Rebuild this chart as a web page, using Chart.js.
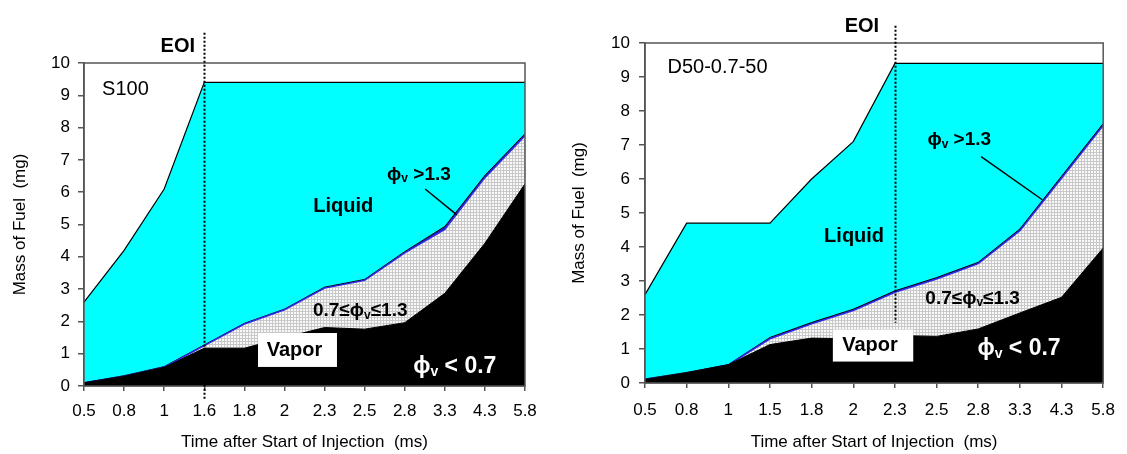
<!DOCTYPE html>
<html lang="en">
<head>
<meta charset="utf-8">
<title>Mass of fuel vs time after start of injection</title>
<script src="https://cdn.jsdelivr.net/npm/chart.js@4.4.1/dist/chart.umd.min.js"></script>
<style>
  body { margin: 0; background: #fff; }
  canvas { position: absolute; top: 0; }
  #left { left: 0; }
  #right { left: 560px; }
</style>
</head>
<body>
<canvas id="left" width="560" height="454"></canvas>
<canvas id="right" width="567" height="454"></canvas>
<script>
// S100 - cumulative boundaries (mg)
const timesA  = ['0.5','0.8','1','1.6','1.8','2','2.3','2.5','2.8','3.3','4.3','5.8']
const leanA   = [0.1, 0.3, 0.58, 1.17, 1.17, 1.5, 1.81, 1.76, 1.96, 2.87, 4.42, 6.26]   // phi_v < 0.7
const stoichA = [0.1, 0.3, 0.58, 1.25, 1.92, 2.36, 3.03, 3.27, 4.12, 4.85, 6.45, 7.75]  // + 0.7..1.3
const vaporA  = [0.1, 0.32, 0.6, 1.27, 1.94, 2.38, 3.06, 3.3, 4.16, 4.94, 6.52, 7.81]  // + phi_v > 1.3
const totalA  = [2.6, 4.2, 6.1, 9.4, 9.4, 9.4, 9.4, 9.4, 9.4, 9.4, 9.4, 9.4]         // + liquid

// D50-0.7-50
const timesB  = ['0.5','0.8','1','1.5','1.8','2','2.3','2.5','2.8','3.3','4.3','5.8']
const leanB   = [0.1, 0.3, 0.54, 1.13, 1.32, 1.3, 1.4, 1.37, 1.59, 2.06, 2.52, 3.97]
const stoichB = [0.1, 0.29, 0.53, 1.3, 1.74, 2.13, 2.67, 3.06, 3.51, 4.48, 6.02, 7.57]
const vaporB  = [0.12, 0.31, 0.54, 1.34, 1.78, 2.17, 2.71, 3.1, 3.55, 4.53, 6.08, 7.63]
const totalB  = [2.6, 4.7, 4.7, 4.7, 6.0, 7.1, 9.4, 9.4, 9.4, 9.4, 9.4, 9.4]

const FONT = 'Liberation Sans, Arial, sans-serif'
Chart.defaults.font.family = FONT
Chart.defaults.color = '#000'

// labels placed in data units (x = category index, y = mg)
const notesA = [
  { type: 'dotted', x: 3, y1: 10.94, y2: -0.45 },
  { type: 'text', x: 2.77, y: 10.5, parts: ['EOI'], size: 20, bold: true, align: 'right' },
  { type: 'text', x: 0.45, y: 9.17, parts: ['S100'], size: 20 },
  { type: 'text', x: 5.72, y: 5.55, parts: ['Liquid'], size: 20, bold: true },
  { type: 'text', x: 7.56, y: 6.54, parts: ['ϕ', 'v', ' >1.3'], size: 19, bold: true },
  { type: 'line', x1: 8.51, y1: 6.1, x2: 9.3, y2: 5.3 },
  { type: 'text', x: 5.71, y: 2.32, parts: ['0.7≤ϕ', 'v', '≤1.3'], size: 19, bold: true },
  { type: 'box', x1: 4.34, y1: 1.64, x2: 6.31, y2: 0.59, text: 'Vapor', size: 20 },
  { type: 'text', x: 8.21, y: 0.59, parts: ['ϕ', 'v', ' < 0.7'], size: 23, bold: true, color: '#fff' }
]
const notesB = [
  { type: 'dotted', x: 6, y1: 10.51, y2: 1.77 },
  { type: 'text', x: 5.62, y: 10.48, parts: ['EOI'], size: 20, bold: true, align: 'right' },
  { type: 'text', x: 0.54, y: 9.27, parts: ['D50-0.7-50'], size: 20 },
  { type: 'text', x: 4.3, y: 4.3, parts: ['Liquid'], size: 20, bold: true },
  { type: 'text', x: 6.78, y: 7.14, parts: ['ϕ', 'v', ' >1.3'], size: 19, bold: true },
  { type: 'line', x1: 8.07, y1: 6.66, x2: 9.54, y2: 5.39 },
  { type: 'text', x: 6.73, y: 2.48, parts: ['0.7≤ϕ', 'v', '≤1.3'], size: 19, bold: true },
  { type: 'box', x1: 4.51, y1: 1.57, x2: 6.44, y2: 0.63, text: 'Vapor', size: 20 },
  { type: 'text', x: 7.98, y: 1.01, parts: ['ϕ', 'v', ' < 0.7'], size: 23, bold: true, color: '#fff' }
]

function font(size, bold) { return (bold ? 'bold ' : '') + size + 'px ' + FONT }

// draws text with every second part as a subscript
function drawParts(ctx, px, py, n) {
  const main = font(n.size, n.bold), sub = font(Math.round(n.size * 0.62), n.bold)
  let w = 0
  n.parts.forEach((p, i) => { ctx.font = i % 2 ? sub : main; w += ctx.measureText(p).width })
  let cx = n.align === 'right' ? px - w : px
  ctx.fillStyle = n.color || '#000'
  ctx.textBaseline = 'middle'
  ctx.textAlign = 'left'
  n.parts.forEach((p, i) => {
    ctx.font = i % 2 ? sub : main
    ctx.fillText(p, cx, i % 2 ? py + n.size * 0.22 : py)
    cx += ctx.measureText(p).width
  })
}

function notesPlugin(notes) {
  return {
    id: 'notes',
    afterDatasetsDraw(chart) {
      const { ctx, chartArea: a, scales: { x, y } } = chart
      ctx.save()
      ctx.strokeStyle = '#555'
      ctx.lineWidth = 1.5
      ctx.strokeRect(a.left, a.top, a.right - a.left, a.bottom - a.top)
      for (const n of notes) {
        if (n.type === 'dotted') {
          const px = Math.round(x.getPixelForValue(n.x)) + 0.5
          ctx.strokeStyle = '#000'
          ctx.lineWidth = 2
          ctx.setLineDash([2, 2])
          ctx.beginPath()
          ctx.moveTo(px, y.getPixelForValue(n.y1))
          ctx.lineTo(px, y.getPixelForValue(n.y2))
          ctx.stroke()
          ctx.setLineDash([])
        } else if (n.type === 'line') {
          ctx.strokeStyle = '#000'
          ctx.lineWidth = 1.5
          ctx.beginPath()
          ctx.moveTo(x.getPixelForValue(n.x1), y.getPixelForValue(n.y1))
          ctx.lineTo(x.getPixelForValue(n.x2), y.getPixelForValue(n.y2))
          ctx.stroke()
        } else if (n.type === 'box') {
          const l = x.getPixelForValue(n.x1), r = x.getPixelForValue(n.x2)
          const t = y.getPixelForValue(n.y1), b = y.getPixelForValue(n.y2)
          ctx.fillStyle = '#fff'
          ctx.fillRect(l, t, r - l, b - t)
          ctx.fillStyle = '#000'
          ctx.font = font(n.size, true)
          ctx.textAlign = 'center'
          ctx.textBaseline = 'middle'
          ctx.fillText(n.text, (l + r) / 2 - 3, (t + b) / 2)
        } else {
          drawParts(ctx, x.getPixelForValue(n.x), y.getPixelForValue(n.y), n)
        }
      }
      ctx.restore()
    }
  }
}

function fuelChart(id, labels, lean, stoich, vapor, total, g, notes) {
  const canvas = document.getElementById(id)
  const tile = document.createElement('canvas')
  tile.width = tile.height = 3
  const tc = tile.getContext('2d')
  tc.fillStyle = '#c8c8c8'; tc.fillRect(0, 0, 3, 3)
  tc.fillStyle = '#f8f8f8'; tc.fillRect(0, 0, 2, 2)
  const dots = canvas.getContext('2d').createPattern(tile, 'repeat')

  const line = { fill: 'origin', pointRadius: 0, tension: 0 }
  return new Chart(canvas, {
    type: 'line',
    data: {
      labels: labels,
      datasets: [
        { ...line, data: lean, backgroundColor: '#000', borderColor: '#000', borderWidth: 1 },
        { ...line, data: stoich, backgroundColor: dots, borderColor: '#2b2be8', borderWidth: 1.5 },
        { ...line, data: vapor, backgroundColor: '#1a1ab8', borderColor: '#000', borderWidth: 1 },
        { ...line, data: total, backgroundColor: '#00ffff', borderColor: '#000', borderWidth: 1.2 }
      ]
    },
    options: {
      responsive: false,
      animation: false,
      layout: { padding: { left: 0, right: g.right, top: g.top, bottom: 0 } },
      plugins: { legend: { display: false }, tooltip: { enabled: false } },
      scales: {
        x: {
          offset: false,
          grid: { drawOnChartArea: false, tickLength: 5, color: '#555', lineWidth: 1.5 },
          border: { color: '#555', width: 1.5 },
          ticks: { font: { size: 17 }, padding: g.xPad, maxRotation: 0, autoSkip: false },
          title: { display: true, text: 'Time after Start of Injection  (ms)', font: { size: 17 }, padding: { top: 0, bottom: 1 } },
          afterFit: s => { s.height = g.xHeight }
        },
        y: {
          min: 0, max: 10,
          grid: { drawOnChartArea: false, tickLength: 6, color: '#555', lineWidth: 1.5 },
          border: { color: '#555', width: 1.5 },
          ticks: { stepSize: 1, font: { size: 17 }, padding: g.yPad },
          title: { display: true, text: 'Mass of Fuel  (mg)', font: { size: 17 }, padding: { top: g.yTitle, bottom: 0 } },
          afterFit: s => { s.width = g.yWidth }
        }
      }
    },
    plugins: [notesPlugin(notes)]
  })
}

fuelChart('left', timesA, leanA, stoichA, vaporA, totalA,
  { right: 35, top: 63, xHeight: 68, yWidth: 84, xPad: 10, yPad: 8, yTitle: 10 }, notesA)
fuelChart('right', timesB, leanB, stoichB, vaporB, totalB,
  { right: 16, top: 43, xHeight: 71, yWidth: 85, xPad: 12, yPad: 9, yTitle: 9 }, notesB)
</script>
</body>
</html>
